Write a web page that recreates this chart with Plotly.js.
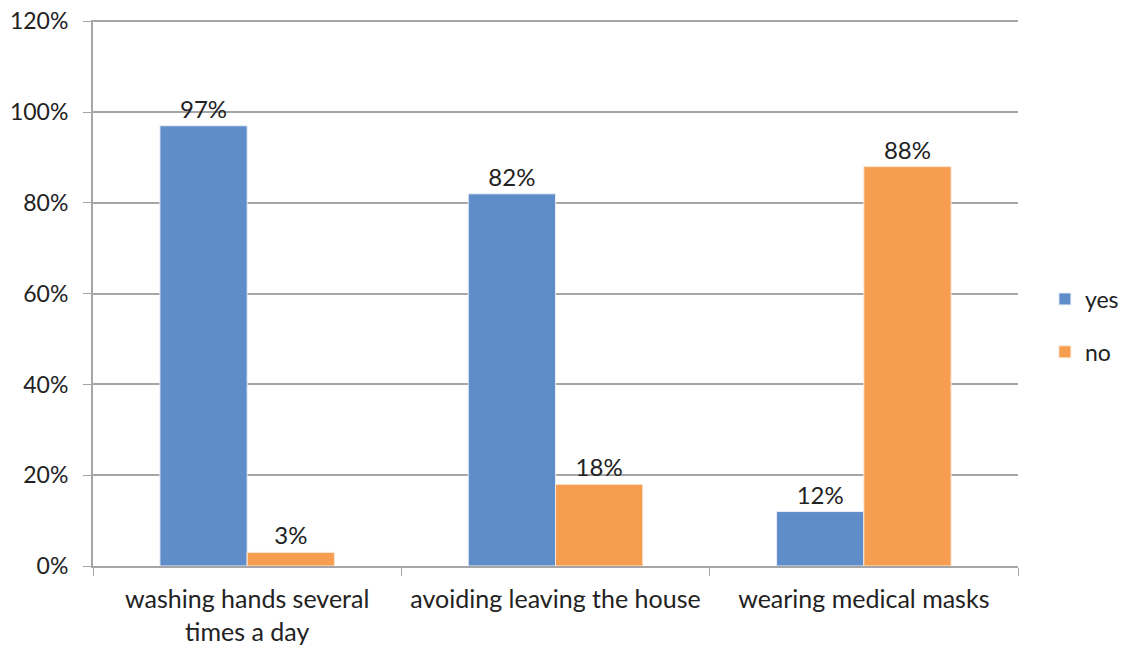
<!DOCTYPE html>
<html>
<head>
<meta charset="utf-8">
<script src="https://cdn.plot.ly/plotly-3.0.1.min.js"></script>
<style>html,body{margin:0;padding:0;background:#fff;}#chart{width:1126px;height:651px;}</style>
</head>
<body>
<div id="chart"></div>
<script>
const categories = ["washing hands several<br>times a day", "avoiding leaving the house", "wearing medical masks"];
const yesValues = [0.97, 0.82, 0.12];
const noValues = [0.03, 0.18, 0.88];
const yTickVals = [0, 0.2, 0.4, 0.6, 0.8, 1.0, 1.2];
const yTickText = ["0%", "20%", "40%", "60%", "80%", "100%", "120%"];

const font = "Lato, 'Open Sans', sans-serif";
const traces = [
  {type: "bar", name: "yes", x: categories, y: yesValues, legendgroup: "a",
   marker: {color: "#5F8DCA", line: {color: "#E8EEF6", width: 1}},
   text: yesValues.map(v => Math.round(v * 100) + "%"), textposition: "outside",
   textfont: {family: font, size: 24, color: "#222"}, cliponaxis: false, hoverinfo: "none"},
  {type: "bar", name: "no", x: categories, y: noValues, legendgroup: "b",
   marker: {color: "#F79D4F", line: {color: "#FBE8D8", width: 1}},
   text: noValues.map(v => Math.round(v * 100) + "%"), textposition: "outside",
   textfont: {family: font, size: 24, color: "#222"}, cliponaxis: false, hoverinfo: "none"}
];
const layout = {
  width: 1126, height: 651,
  margin: {l: 93, r: 108, t: 20, b: 85, autoexpand: false},
  paper_bgcolor: "#fff", plot_bgcolor: "#fff",
  font: {family: font, size: 23, color: "#222"},
  barmode: "group", bargap: 0.434, bargroupgap: 0,
  showlegend: true,
  legend: {xref: "container", yref: "container", x: 0.928, y: 0.5, xanchor: "left", yanchor: "middle",
           traceorder: "grouped", tracegroupgap: 20, font: {family: font, size: 23, color: "#222"}, itemwidth: 30},
  xaxis: {type: "category", tickson: "boundaries", ticks: "outside", ticklen: 8, tickcolor: "#A6A6A6",
          showline: true, linecolor: "#A6A6A6", linewidth: 2, showgrid: false, ticklabelstandoff: 10,
          tickfont: {family: font, size: 25, color: "#222"}, automargin: false},
  yaxis: {range: [0, 1.203], tickvals: yTickVals, ticktext: yTickText, ticks: "outside", ticklen: 8,
          tickcolor: "#A6A6A6", showline: true, linecolor: "#A6A6A6", linewidth: 2, ticklabelstandoff: 10,
          showgrid: true, gridcolor: "#A6A6A6", gridwidth: 2, zeroline: false,
          tickfont: {family: font, size: 23, color: "#222"}, automargin: false}
};
Plotly.newPlot("chart", traces, layout, {displayModeBar: false, staticPlot: true});
</script>
</body>
</html>
